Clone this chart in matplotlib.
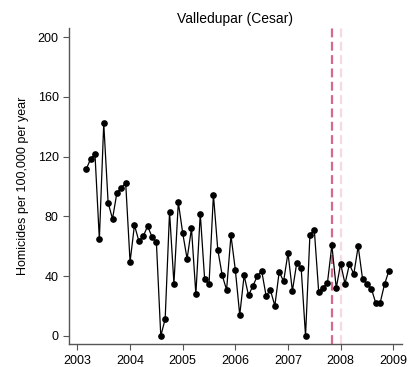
import matplotlib
matplotlib.use("Agg")
import matplotlib.pyplot as plt
import numpy as np

plt.rcParams['font.family'] = ['Liberation Sans', 'DejaVu Sans']

# monthly rates, Mar 2003 .. Dec 2008
start_year = 2003
start_month = 3
rates = [111.6, 118.5, 121.8, 64.7, 142.4, 89.2, 78.4, 95.9, 99.0, 102.5,
         49.6, 74.2, 63.6, 66.7, 73.5, 66.4, 62.7, 0.0, 11.3, 83.0,
         35.0, 89.5, 68.9, 51.6, 72.0, 27.9, 81.9, 38.0, 34.6, 94.6,
         57.6, 40.7, 30.8, 67.3, 44.1, 14.0, 40.5, 27.2, 33.4, 40.1,
         43.6, 27.0, 30.6, 20.2, 43.0, 36.5, 55.6, 30.1, 49.0, 45.6,
         0.0, 67.8, 70.9, 29.4, 32.3, 35.7, 60.7, 32.1, 48.3, 35.0,
         48.0, 41.4, 60.0, 38.1, 35.0, 31.7, 22.1, 22.1, 34.5, 43.6]
event_dates = [2007 + 10 / 12, 2008.0]
event_colors = ['#d6698a', '#f7d9e3']
x_ticks = list(range(2003, 2010))
y_ticks = [0, 40, 80, 120, 160, 200]

dates = [start_year + (start_month - 1 + i) / 12 for i in range(len(rates))]

fig = plt.figure(figsize=(4.16, 3.67), dpi=100)
ax = fig.add_axes([69 / 416, 1 - 344.3 / 367, (401.7 - 69) / 416, (344.3 - 28) / 367])

for d, c in zip(event_dates, event_colors):
    ax.axvline(d, color=c, linewidth=1.6, linestyle=(0, (4, 2)), zorder=1)

ax.plot(dates, rates, color='black', linewidth=0.9, marker='o',
        markersize=3.8, zorder=3)

ax.set_xlim(2002.84, 2009.16)
ax.set_ylim(-5.6, 206.2)
ax.set_xticks(x_ticks)
ax.set_yticks(y_ticks)
ax.set_title("Valledupar (Cesar)", fontsize=10, pad=3.5)
ax.set_ylabel("Homicides per 100,000 per year", fontsize=9, labelpad=6)

for s in ['top', 'right']:
    ax.spines[s].set_visible(False)
for s in ['left', 'bottom']:
    ax.spines[s].set_color('#555555')
    ax.spines[s].set_linewidth(1.0)
ax.tick_params(axis='both', labelsize=9, length=4, width=0.8, color='#555555')

fig.savefig('out.png', dpi=100)
